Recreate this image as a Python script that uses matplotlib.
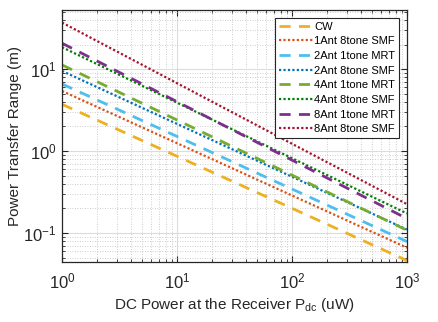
import matplotlib
matplotlib.use("Agg")
import matplotlib.pyplot as plt
import numpy as np

plt.rcParams['font.family'] = ['Liberation Sans', 'DejaVu Sans']
plt.rcParams['mathtext.fontset'] = 'custom'
plt.rcParams['mathtext.rm'] = 'Liberation Sans'
plt.rcParams['mathtext.it'] = 'Liberation Sans:italic'

x = [1, 10, 100, 1000]
cw = [3.73, 0.865, 0.200, 0.046]
ant1_8tone_smf = [5.42, 1.25, 0.287, 0.066]
ant2_1tone_mrt = [6.61, 1.51, 0.344, 0.0785]
ant2_8tone_smf = [9.53, 2.15, 0.486, 0.110]
ant4_1tone_mrt = [11.3, 2.40, 0.509, 0.108]
ant4_8tone_smf = [18.6, 3.91, 0.82, 0.173]
ant8_1tone_mrt = [20.8, 4.02, 0.776, 0.150]
ant8_8tone_smf = [37.2, 6.76, 1.23, 0.225]

labels = ['CW', '1Ant 8tone SMF', '2Ant 1tone MRT', '2Ant 8tone SMF',
          '4Ant 1tone MRT', '4Ant 8tone SMF', '8Ant 1tone MRT', '8Ant 8tone SMF']
series = [cw, ant1_8tone_smf, ant2_1tone_mrt, ant2_8tone_smf,
          ant4_1tone_mrt, ant4_8tone_smf, ant8_1tone_mrt, ant8_8tone_smf]
colors = ['#EDB120', '#D95319', '#4DBEEE', '#0072BD',
          '#77AC30', '#008000', '#7E2F8E', '#A2142F']
styles = ['dashed', 'dotted', 'dashed', 'dotted', 'dashed', 'dotted', 'dashed', 'dotted']

fig = plt.figure(figsize=(4.38, 3.22), dpi=100)
ax = fig.add_axes([0.1416, 0.186, 0.7874, 0.783])

for y, lab, c, s in zip(series, labels, colors, styles):
    if s == 'dashed':
        ax.plot(x, y, color=c, linestyle=(0, (4.0, 3.0)), linewidth=2.0, label=lab)
    else:
        ax.plot(x, y, color=c, linestyle=(0, (1, 1)), linewidth=1.6, label=lab)

ax.set_xscale('log')
ax.set_yscale('log')
ax.set_xlim(1, 1000)
ax.set_ylim(0.044, 53)

ax.grid(True, which='major', color='#dcdcdc', linestyle='-', linewidth=0.8)
ax.grid(True, which='minor', color='#bdbdbd', linestyle=(0, (1, 2)), linewidth=0.6)
ax.set_axisbelow(True)

ax.tick_params(which='both', direction='in', top=True, right=True, colors='#262626', labelsize=12)
ax.tick_params(which='major', length=4)
ax.tick_params(which='minor', length=2.5)
ax.tick_params(axis='x', which='major', pad=7)
ax.tick_params(axis='y', which='major', pad=4)
for sp in ax.spines.values():
    sp.set_color('#262626')
    sp.set_linewidth(0.9)

ax.set_xlabel(r'DC Power at the Receiver P$_{\mathrm{dc}}$ (uW)', fontsize=11, color='#262626', labelpad=3)
ax.set_ylabel('Power Transfer Range (m)', fontsize=11, color='#262626', labelpad=1)

leg = ax.legend(loc='upper right', fontsize=8, handlelength=3.0, handletextpad=0.15,
                borderpad=0.35, labelspacing=0.42, fancybox=False, framealpha=1,
                edgecolor='#262626', borderaxespad=0.7)
leg.get_frame().set_linewidth(0.8)

fig.savefig('out.png', dpi=100)
